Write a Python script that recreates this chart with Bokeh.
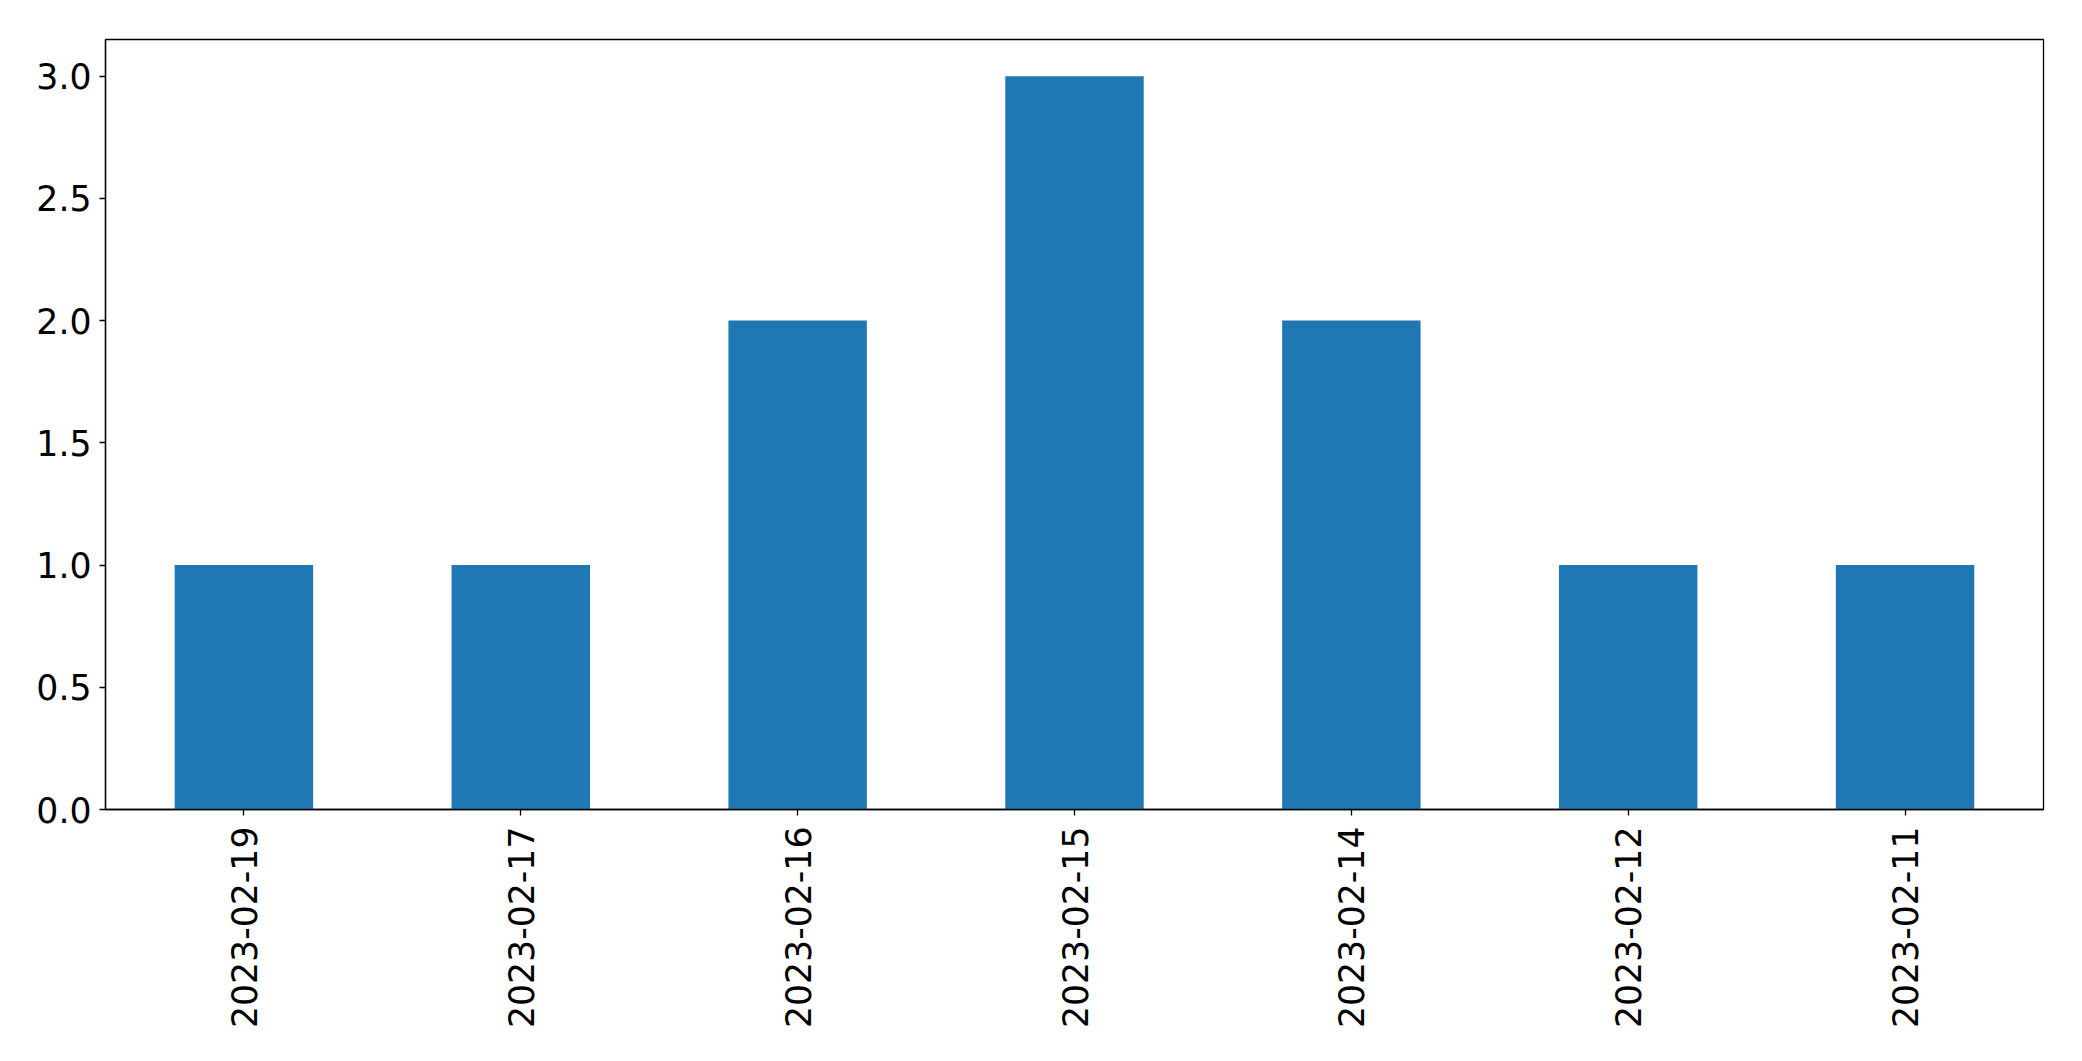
import math
from bokeh.plotting import figure
from bokeh.models import ColumnDataSource, FactorRange, Range1d, FixedTicker, NumeralTickFormatter
from bokeh.embed import file_html
from bokeh.resources import INLINE

dates = ["2023-02-19", "2023-02-17", "2023-02-16", "2023-02-15", "2023-02-14", "2023-02-12", "2023-02-11"]
counts = [1, 1, 2, 3, 2, 1, 1]
y_ticks = [0.0, 0.5, 1.0, 1.5, 2.0, 2.5, 3.0]

source = ColumnDataSource(data=dict(date=dates, count=counts))

p = figure(
    x_range=FactorRange(factors=dates, range_padding=0),
    y_range=Range1d(0, 3.15),
    width=2066, height=1045,
    output_backend="svg", toolbar_location=None,
    min_border_left=105, min_border_right=23, min_border_top=39, min_border_bottom=236,
)
p.vbar(x="date", top="count", width=0.5, source=source, color="#1f77b4", line_color=None)

p.xgrid.visible = False
p.ygrid.visible = False
p.outline_line_color = "black"
p.outline_line_alpha = 1
p.outline_line_width = 1.3
p.background_fill_color = "white"
p.border_fill_color = "white"

for ax in (p.xaxis[0], p.yaxis[0]):
    ax.axis_line_color = "black"
    ax.axis_line_width = 1.3
    ax.major_tick_line_color = "black"
    ax.major_tick_line_width = 1.3
    ax.major_tick_in = 0
    ax.major_tick_out = 6
    ax.minor_tick_line_color = None
    ax.major_label_text_font = "DejaVu Sans"
    ax.major_label_text_font_size = "34.7px"
    ax.major_label_text_color = "black"

p.yaxis[0].ticker = FixedTicker(ticks=y_ticks)
p.yaxis[0].formatter = NumeralTickFormatter(format="0.0")
p.yaxis[0].major_label_standoff = 8
p.xaxis[0].major_label_orientation = math.pi / 2
p.xaxis[0].major_label_standoff = 11

open("out.html", "w").write(file_html(p, INLINE))
